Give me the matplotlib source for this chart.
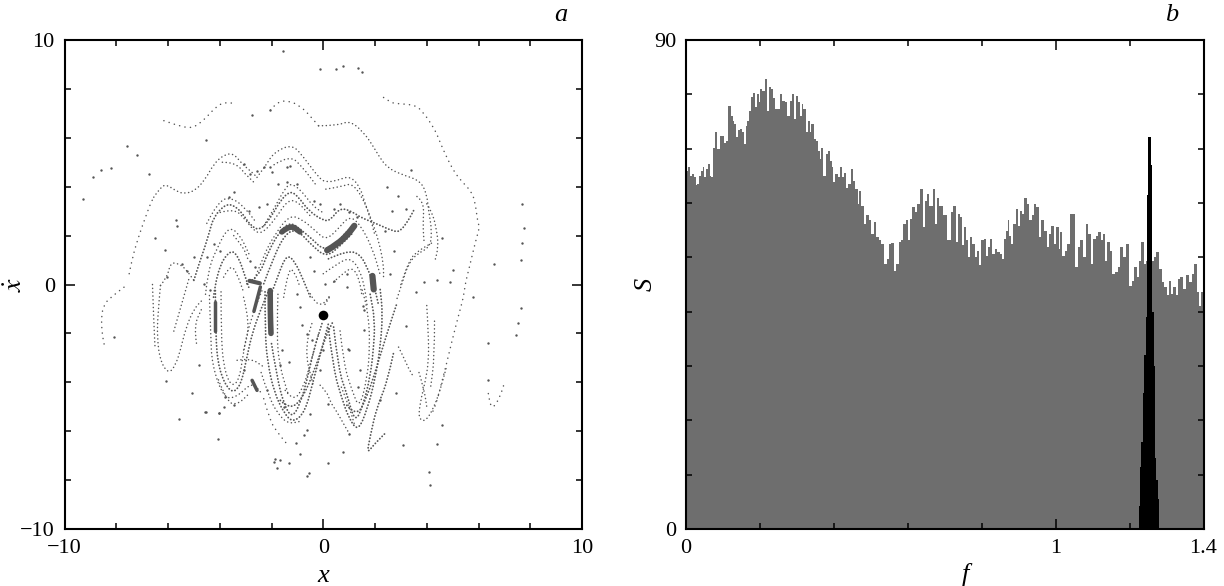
import matplotlib
matplotlib.use('Agg')
import matplotlib.pyplot as plt
from matplotlib.path import Path
from matplotlib.patches import PathPatch
import numpy as np

plt.rcParams['font.family'] = ['Liberation Serif', 'DejaVu Serif']
plt.rcParams['mathtext.fontset'] = 'stix'

# panel a: strands of the section as (x, xdot)
outer_top_left = [(-6.16, 6.70), (-5.71, 6.53), (-5.13, 6.38), (-4.81, 6.56), (-4.49, 6.86), (-4.17, 7.24),
                  (-3.84, 7.46), (-3.39, 7.40)]
outer_top_mid = [(-2.04, 7.13), (-1.78, 7.49), (-1.27, 7.51), (-0.88, 7.27), (-0.63, 7.04), (-0.18, 6.49)]
outer_right = [(2.33, 7.65), (2.59, 7.46), (2.78, 7.40), (3.55, 7.35), (3.87, 7.04), (4.32, 6.33), (4.49, 5.88),
               (4.71, 5.34), (5.0, 4.72), (5.22, 4.38), (5.48, 4.08), (5.74, 3.77), (5.87, 3.36), (5.96, 2.62),
               (6.04, 2.34), (5.93, 1.93), (5.8, 1.39), (5.68, 0.85), (5.55, 0.3), (5.48, -0.04), (5.42, -0.52),
               (5.23, -1.26), (5.03, -2.08), (4.84, -2.9), (4.75, -3.3), (4.58, -3.99), (4.39, -4.8), (4.2, -5.28)]
far_left_up = [(-7.5, 0.44), (-7.38, 1.12), (-7.06, 2.2), (-6.87, 2.75), (-6.68, 3.3), (-6.55, 3.57)]
far_left_low = [(-7.7, -0.11), (-8.22, -0.52), (-8.5, -0.86), (-8.58, -1.4), (-8.54, -2.08), (-8.45, -2.53)]
small_arc = [(6.38, -4.46), (6.45, -4.94), (6.58, -5.05), (6.83, -4.6), (7.0, -4.03)]
low_tail = [(-2.3, -4.67), (-2.04, -5.62), (-1.78, -6.03), (-1.34, -6.61)]
far_lobe = [(-6.29, -0.04), (-6.39, -1.13), (-6.42, -2.22), (-6.29, -3.17), (-5.97, -3.65), (-5.71, -3.3),
            (-5.52, -2.69), (-5.32, -1.81), (-5.0, -0.99), (-4.62, -0.58)]
far_lobe_top = [(-6.29, -0.04), (-6.03, 0.3), (-5.9, 0.9), (-5.58, 0.85), (-5.32, 0.64), (-5.0, 0.17)]
far_lobe_b = [(-6.6, 0.0), (-6.55, -1.5), (-6.5, -2.6)]
far_lobe_c = [(-5.2, 0.2), (-5.5, -0.9), (-5.8, -2.0)]
far_lobe_d = [(-4.9, -2.4), (-5.0, -1.7), (-4.7, -1.0)]
mid_upper = [(-6.55, 3.57), (-6.29, 3.98), (-6.06, 4.09), (-5.71, 3.84), (-5.39, 3.70), (-4.94, 3.84), (-4.55, 4.32),
             (-4.23, 4.93), (-3.84, 5.31), (-3.46, 5.36), (-3.14, 4.93), (-2.75, 4.59), (-2.56, 4.38)]
mid_upper_b = [(-3.9, 5.0), (-3.4, 5.0), (-3.0, 4.5), (-2.6, 4.1)]
upper_peak = [(-2.56, 4.38), (-2.2, 4.9), (-1.91, 5.4), (-1.2, 5.74), (-0.75, 5.2), (-0.18, 4.38), (0.08, 4.18),
              (0.53, 4.25), (1.04, 4.45), (1.43, 3.97), (1.62, 3.29), (1.88, 2.61), (2.14, 1.8), (2.33, 0.84),
              (2.33, 0.3)]
upper_peak_b = [(-1.9, 4.9), (-1.3, 5.3), (-0.8, 4.8), (-0.3, 4.1)]
upper_right_b = [(0.1, 3.9), (0.7, 4.0), (1.1, 4.15), (1.5, 3.6), (1.8, 2.8), (2.0, 2.0)]
top_wave = [(-0.18, 6.49), (0.53, 6.5), (1.04, 6.7), (1.56, 6.22), (1.88, 5.74), (2.14, 5.27), (2.46, 4.79),
            (2.97, 4.52), (3.75, 4.25), (4.0, 3.7), (4.07, 3.02), (4.2, 2.2), (4.13, 1.53), (3.62, 1.25), (3.29, 0.85),
            (3.04, 0.03), (2.85, -0.58)]
right_bundle_a = [(4.0, 3.3), (4.2, 3.0), (4.39, 2.2), (4.45, 1.53), (4.3, 0.9)]
right_bundle_b = [(3.62, 3.6), (3.9, 3.4), (3.85, 2.4), (3.9, 1.7)]
right_bundle_c = [(3.0, 0.0), (3.3, 1.0), (3.7, 1.4), (4.2, 1.7)]
wave_a = [(-5.0, 0.17), (-4.8, 0.85), (-4.62, 1.39), (-4.42, 2.07), (-4.24, 2.75), (-3.85, 3.22), (-3.53, 3.29),
          (-3.14, 2.95), (-2.82, 2.41), (-2.43, 2.2), (-1.98, 2.82), (-1.66, 3.43), (-1.27, 3.84), (-0.95, 3.57),
          (-0.57, 3.02), (0.0, 2.61), (0.27, 2.62), (0.66, 3.16), (1.17, 2.95), (1.43, 2.75), (2.07, 2.48), (2.7, 2.18),
          (2.97, 2.16), (3.29, 2.62), (3.49, 3.02)]
wave_b = [(-3.98, 2.95), (-3.46, 3.1), (-3.08, 2.75), (-2.69, 2.2), (-2.37, 2.07), (-1.85, 2.68), (-1.4, 3.43),
          (-1.02, 3.43), (-0.5, 2.8)]
wave_c = [(-4.5, 2.5), (-4.05, 3.45), (-3.5, 3.55), (-3.0, 3.1), (-2.6, 2.55)]
wave_d = [(-2.3, 2.4), (-1.9, 3.1), (-1.5, 3.9), (-1.25, 4.15), (-0.85, 3.85), (-0.4, 3.2), (0.05, 2.9)]
between = [(-2.7, 0.1), (-2.3, 1.2), (-1.9, 2.0), (-1.3, 2.85), (-0.8, 2.65), (-0.3, 2.2), (0.1, 1.8), (0.6, 2.3),
           (1.0, 2.8), (1.4, 2.5), (1.9, 1.5), (2.2, 0.4)]
thick_peak_a = [(-2.95, 0.03), (-2.5, 0.3), (-2.11, 1.39), (-1.66, 2.2), (-1.27, 2.55), (-0.89, 2.27), (-0.37, 1.8),
                (-0.05, 1.46), (0.4, 1.52), (0.91, 2.2), (1.23, 2.41)]
thick_peak_b = [(-2.3, 0.03), (-1.92, 1.12), (-1.47, 2.07), (-1.02, 2.27), (-0.37, 1.52), (0.14, 1.12), (0.66, 1.59),
                (1.17, 2.14)]
inner_peak = [(-2.05, -0.52), (-1.73, 0.44), (-1.4, 1.25), (-1.08, 0.91), (-0.76, 0.16), (-0.5, -0.52)]
inner_peak_b = [(-1.53, -0.52), (-1.34, 0.71), (-1.1, 0.5), (-0.9, -0.1)]
band_right_a = [(0.2, 1.05), (0.91, 1.39), (1.43, 1.25), (1.75, 0.57), (1.94, 0.03), (2.07, -0.52), (2.14, -0.86)]
band_right_b = [(0.0, 0.44), (0.53, 0.84), (1.04, 1.12), (1.43, 0.57), (1.62, -0.24), (1.7, -0.9)]
band_right_c = [(0.4, 0.1), (0.8, 0.5), (1.15, 0.7), (1.4, 0.2), (1.5, -0.5)]
left_peak_a = [(-4.24, -0.52), (-4.11, 0.57), (-3.59, 1.46), (-3.27, 1.12), (-3.01, 0.3), (-2.88, -0.11)]
left_peak_b = [(-3.85, 0.3), (-3.59, 0.84), (-3.33, 0.44), (-3.08, -0.31)]
left_peak_c = [(-3.46, 2.0), (-3.08, 1.52), (-2.9, 1.0)]
left_peak_d = [(-4.55, -0.4), (-4.45, 0.6), (-4.1, 1.5), (-3.65, 2.4), (-3.2, 2.0), (-2.85, 1.2)]
centre_lobe = [(-2.0, -2.42), (-1.79, -3.78), (-1.53, -4.87), (-1.21, -5.48), (-0.89, -4.87), (-0.63, -3.92),
               (-0.37, -2.69), (-0.05, -1.6)]
centre_lobe_b = [(-1.47, -4.33), (-1.15, -4.8), (-0.76, -4.19), (-0.5, -3.24), (-0.18, -2.01)]
centre_lobe_c = [(-1.66, -4.74), (-1.28, -5.14), (-0.76, -4.6), (-0.25, -3.24), (0.14, -2.01), (0.4, -1.47)]
centre_lobe_d = [(-2.25, -0.3), (-2.25, -2.0), (-2.15, -3.2), (-1.9, -4.4), (-1.5, -5.3), (-1.15, -5.65), (-0.7, -5.2),
                 (-0.4, -4.0), (-0.1, -2.8), (0.2, -1.6)]
centre_lobe_e = [(-1.75, -0.4), (-1.8, -2), (-1.7, -3.3), (-1.35, -4.5)]
centre_low = [(-2.4, -3.6), (-2.1, -4.6), (-1.75, -5.3), (-1.35, -5.7), (-0.9, -5.6)]
centre_inner = [(-0.44, -1.6), (-0.76, -2.56), (-0.37, -4.19)]
centre_cross = [(-0.5, -0.38), (-0.18, -1.06), (0.4, -0.25), (0.0, -0.93)]
right_lobe_a = [(0.4, -1.74), (0.59, -3.51), (0.91, -4.46), (1.23, -5.69), (1.56, -4.87), (1.81, -3.78), (1.94, -2.69),
                (2.0, -1.47), (1.81, -0.38)]
right_lobe_b = [(0.91, -4.94), (1.3, -5.42), (1.69, -4.6), (2.07, -3.37), (2.46, -2.01), (2.84, -0.79)]
right_lobe_c = [(2.71, -2.83), (2.46, -4.05), (2.07, -5.01), (1.81, -6.23), (1.69, -6.91), (1.94, -6.57), (2.39, -6.09)]
right_lobe_d = [(0.65, -1.9), (0.8, -3.3), (1.1, -4.3), (1.4, -5.1), (1.7, -3.8), (1.8, -2.6), (1.75, -1.2), (1.5, -0.2)]
right_lobe_e = [(0.2, -1.8), (0.4, -3.5), (0.7, -4.6), (1.0, -5.5), (1.35, -6.0), (1.7, -5.1), (2.0, -3.9), (2.2, -2.6),
                (2.3, -1.2), (2.2, -0.2)]
right_lobe_f = [(0.7, -4.2), (1.0, -5.0), (1.2, -5.7)]
right_lobe_low = [(-0.12, -4.12), (0.14, -4.39), (0.27, -4.8), (0.53, -5.21), (0.85, -5.82), (1.04, -6.16)]
left_lobe = [(-4.17, -0.25), (-4.17, -2.01), (-4.04, -3.51), (-3.59, -4.46), (-3.2, -4.19), (-2.95, -2.97),
             (-2.75, -2.01), (-2.43, -1.06), (-2.11, -0.25)]
left_lobe_b = [(-3.95, -0.3), (-3.95, -2.0), (-3.85, -3.4), (-3.55, -4.2), (-3.25, -3.9), (-3.1, -2.9), (-2.95, -2.0),
               (-2.65, -1.0), (-2.35, -0.2)]
left_lobe_outer = [(-4.4, -0.45), (-4.35, -2.0), (-4.3, -3.3), (-3.84, -4.67), (-3.33, -4.6), (-2.75, -3.99),
                   (-2.43, -4.39)]
left_lobe_edge = [(-3.08, -0.52), (-2.82, -1.6), (-3.08, -2.69)]
left_foot = [(-3.33, -3.1), (-2.82, -3.0), (-2.3, -3.37)]
left_bottom = [(-4.05, -3.9), (-3.7, -4.85), (-3.3, -4.9), (-2.9, -4.5)]
short_tail = [(2.91, -2.56), (3.04, -2.83), (3.3, -3.44), (3.49, -3.78)]
far_right_lobe = [(4.0, -0.86), (4.07, -2.08), (4.07, -3.17), (3.94, -3.99), (3.75, -4.8), (3.68, -5.48), (3.94, -5.62),
                  (4.26, -5.07), (4.52, -4.32), (4.78, -3.3)]
far_right_in = [(3.7, -3.6), (3.9, -4.3), (4.0, -5.0)]
far_right_b = [(4.3, -1.5), (4.3, -3.0), (4.15, -4.2)]

# the darkest patches, where the points merge
blob_centre_band = [(0.15, 1.4), (0.55, 1.65), (0.95, 2.05), (1.2, 2.4)]
blob_peak = [(-1.6, 2.15), (-1.27, 2.45), (-0.9, 2.15)]
blob_left_wall = [(-2.05, -0.25), (-2.05, -1.06), (-2.02, -2.0)]
blob_lobe_wall = [(-4.17, -0.7), (-4.17, -1.9)]
blob_right_knot = [(1.9, 0.35), (1.95, -0.2)]
blob_left_knot = [(-2.85, 0.15), (-2.45, 0.05)]
blob_wall_b = [(-2.43, -0.1), (-2.68, -1.1)]
blob_foot = [(-2.75, -3.92), (-2.56, -4.33)]

sparse_strands = [outer_top_left, outer_top_mid, outer_right, far_left_up, far_left_low, small_arc, low_tail]
medium_strands = [far_lobe, far_lobe_top, far_lobe_b, far_lobe_c, far_lobe_d, mid_upper, mid_upper_b, upper_peak,
                  upper_peak_b, upper_right_b, top_wave, wave_b, wave_c, wave_d, right_bundle_a, right_bundle_b,
                  right_bundle_c, inner_peak_b, left_peak_b, left_peak_c, left_peak_d, centre_lobe_b, centre_lobe_e,
                  centre_low, centre_inner, centre_cross, left_lobe_outer, left_lobe_b, left_lobe_edge, left_foot,
                  left_bottom, right_lobe_low, right_lobe_d, right_lobe_f, short_tail, far_right_lobe, far_right_in,
                  far_right_b, band_right_b, band_right_c, between]
dense_strands = [wave_a, thick_peak_a, thick_peak_b, inner_peak, band_right_a, left_peak_a, centre_lobe, centre_lobe_c,
                 centre_lobe_d, right_lobe_a, right_lobe_b, right_lobe_c, right_lobe_e, left_lobe]
blobs = [(blob_centre_band, 4.5), (blob_peak, 4.0), (blob_left_wall, 4.0), (blob_lobe_wall, 2.5),
         (blob_right_knot, 4.5), (blob_left_knot, 3.0), (blob_wall_b, 2.5), (blob_foot, 2.5)]

lone_points = [
    (-9.3, 3.5), (-8.9, 4.4), (-8.6, 4.7), (-8.2, 4.75), (-7.6, 5.65), (-7.2, 5.3), (-6.75, 4.5), (-4.55, 5.9),
    (-1.55, 9.55), (-0.12, 8.8), (0.5, 8.83), (0.76, 8.94), (1.33, 8.87), (1.49, 8.71), (7.63, -0.97), (7.54, -1.58),
    (7.45, -2.08), (6.38, -2.38), (6.38, -3.92), (4.07, -7.66), (4.13, -8.18), (0.17, -7.29), (0.76, -6.84),
    (3.1, -6.57), (4.41, -6.54), (4.6, -5.73), (2.82, -4.42), (3.2, -1.7), (5.8, -0.52), (0.94, -2.65), (1.52, -0.86),
    (-8.08, -2.15), (-4.81, -3.28), (-5.09, -4.43), (-4.55, -5.21), (-5.56, -5.52), (-6.08, -3.94), (-4.06, -6.3),
    (-4.01, -5.25), (-1.85, -7.12), (-1.91, -7.25), (-1.78, -7.5), (-1.66, -7.18), (-1.34, -7.32), (-0.88, -6.94),
    (-0.56, -7.73), (-0.63, -7.82), (-0.63, -5.96), (-0.75, -6.14), (-1.04, -6.5), (7.7, 3.3), (7.75, 2.3), (7.7, 1.7),
    (7.65, 1.0), (6.6, 0.85), (-2.75, 6.94), (-2.04, 7.13),
    (-3.08, 4.93), (-2.82, 4.52), (-2.56, 4.65), (-2.3, 4.79), (-2.05, 4.79), (-1.98, 4.59), (-1.4, 4.79), (-1.28, 4.86),
    (-3.46, 3.77), (-3.66, 3.57), (-2.88, 3.02), (-2.5, 3.16), (-2.18, 3.29), (-1.73, 4.11), (-1.4, 4.18), (-1.02, 4.11),
    (-0.37, 3.43), (-0.12, 3.29), (0.4, 3.09), (0.66, 3.29), (0.98, 2.95), (1.3, 2.75), (2.46, 3.97), (2.65, 3.02),
    (2.39, 2.2), (2.72, 1.39), (2.59, 0.44), (-4.24, 1.66), (-4.49, 1.12), (-3.98, 1.39), (-4.62, 0.03), (-4.36, -0.24),
    (-2.82, 0.98), (-2.63, 0.71), (-0.5, 1.12), (-0.37, 0.57), (0.08, 0.03), (0.4, 0.16), (0.91, -0.11), (0.91, 0.44),
    (-3.08, -3.51), (-3.78, -4.6), (-3.46, -4.94), (-3.85, -5.0), (-4.04, -5.25), (-4.56, -5.21), (-2.18, -4.33),
    (-1.66, -3.31), (-1.6, -2.69), (-1.34, -3.17), (-0.83, -1.67), (-0.63, -2.01), (-0.44, -2.29), (0.0, -2.69),
    (-0.12, -3.51), (0.2, -4.87), (0.98, -2.69), (1.56, -1.88), (1.56, -1.06), (1.43, -3.51), (1.36, -4.19), (2.2, -4.73),
    (0.98, -6.1), (-0.5, -5.28), (-1.53, -5.0), (-1.02, -0.38), (-0.89, -0.93), (-6.03, 0.3), (-5.45, 0.85), (-5.26, 0.57),
    (-5.0, 1.12), (-5.71, 2.62), (-5.66, 2.4), (-6.5, 1.9), (-6.1, 1.4), (4.6, 1.9), (5.0, 0.6), (3.4, 4.7), (2.9, 3.6),
    (3.2, 3.1), (4.4, 0.2), (4.9, 0.1), (3.6, -0.3), (3.9, 0.1),
]
marked_x = [0.0]
marked_y = [-1.26]

f_low = [0, .0045, .009, .0144, .019, .0235, .028, .0325, .0379, .0424, .0469, .0514, .0569, .0614, .0659, .0704,
         .074, .0812, .0875, .0939, .0993, .1056, .111, .1173, .1236, .1282, .1327, .1381, .1435, .1498, .1552, .1588,
         .1634, .1688, .1733, .1787, .1841, .1895, .1958, .1976, .2031, .2094, .2175, .2211, .2274, .2328, .2383, .2455,
         .2509, .2572, .2635, .2698, .2771, .2834, .2888, .2942, .3005, .3069, .3105, .315, .3204, .3267, .3321, .3366,
         .342, .3484, .3538, .3592, .3637, .3682, .3754, .3809, .3863, .3917, .3971, .4007, .4079, .4133, .4197, .426,
         .4287, .435, .4422, .4485, .4549, .4621, .4666, .472, .4765, .4846, .491, .4982, .5045, .5126, .518, .5253,
         .5307, .5406, .5451, .5523, .5577, .5659, .5722, .5794, .5848, .5902, .5975, .6029, .6092, .6155, .6227, .6281,
         .6363, .6435, .6489, .6543, .6606, .6651, .6715, .676, .6814, .6895, .6994, .7121]
s_low = [65.0, 65.9, 66.7, 65.0, 65.3, 64.7, 63.4, 63.5, 65.0, 65.9, 66.7, 64.7, 66.2, 67.2, 65.0, 64.7,
         70.2, 73.0, 69.9, 72.4, 72.4, 71.1, 71.5, 77.9, 76.0, 75.1, 74.5, 72.1, 73.4, 73.6, 73.0, 70.8,
         74.2, 75.1, 77.0, 79.5, 80.3, 77.6, 80.0, 78.5, 81.0, 80.6, 82.8, 77.0, 81.3, 81.0, 79.4, 77.3,
         77.3, 80.0, 78.8, 78.5, 76.0, 78.8, 80.0, 75.4, 79.7, 78.5, 76.0, 78.2, 77.3, 73.0, 75.1, 73.0,
         74.5, 71.8, 71.5, 69.6, 68.1, 70.2, 65.0, 69.0, 69.6, 67.8, 66.6, 63.8, 65.3, 64.7, 66.6, 64.7,
         65.6, 62.8, 63.5, 66.2, 64.1, 62.6, 59.8, 62.3, 59.5, 56.1, 57.7, 56.8, 54.3, 56.5, 53.7, 53.1,
         52.5, 48.8, 49.7, 52.5, 52.6, 47.4, 48.8, 52.8, 53.1, 56.1, 56.8, 53.1, 57.1, 59.2, 58.3, 59.8,
         62.6, 55.5, 60.4, 61.7, 59.5, 59.5, 62.6, 56.1, 61.0, 59.5, 57.7, 53.1]
f_high = [.7193, .7256, .7328, .7383, .7446, .7491, .7554, .7599, .7653, .7717, .778, .7843, .7897, .796, .8023, .8077,
          .814, .8204, .8258, .8321, .8384, .8456, .8529, .8574, .8619, .8682, .8727, .8772, .8817, .888, .8953, .9007,
          .9061, .9115, .9187, .9242, .9314, .9386, .9449, .9512, .9585, .9648, .972, .9792, .9855, .9909, .999, 1.0054,
          1.0108, 1.0144, 1.0216, 1.0288, 1.0351, 1.0415, 1.0487, 1.0559, 1.0631, 1.0712, 1.0775, 1.0848, 1.092, 1.0992,
          1.1046, 1.1118, 1.119, 1.1254, 1.1299, 1.1371, 1.1434, 1.1497, 1.1569, 1.1642, 1.1705, 1.1795, 1.1858, 1.1948,
          1.2021, 1.2093, 1.2156, 1.2219, 1.2291, 1.2354, 1.2418, 1.2472, 1.2535, 1.2598, 1.2697, 1.276, 1.2832, 1.2905,
          1.2968, 1.3031, 1.3085, 1.3148, 1.3211, 1.3283, 1.3338, 1.3401, 1.3482, 1.3572, 1.3644, 1.3716, 1.3779, 1.3843,
          1.3915, 1.3969, 1.4]
s_high = [58.3, 59.5, 52.8, 58.0, 57.4, 52.2, 55.5, 53.1, 50.0, 53.7, 52.5, 50.0, 51.2, 48.5, 53.1, 53.4,
          50.3, 51.9, 53.4, 50.6, 51.5, 50.9, 50.6, 49.7, 53.4, 54.9, 56.8, 54.0, 52.5, 56.1, 58.9, 55.8,
          58.5, 58.0, 61.0, 59.8, 56.8, 57.7, 59.8, 59.2, 53.7, 56.8, 54.9, 51.9, 54.3, 55.8, 52.5, 55.5,
          51.5, 54.6, 50.3, 51.2, 52.5, 58.0, 58.0, 48.2, 51.9, 53.1, 50.0, 56.1, 54.3, 48.8,
          53.4, 54.0, 54.6, 53.1, 54.3, 49.4, 52.8, 51.2, 47.0, 47.3, 48.2, 51.9, 50.0, 52.5,
          44.8, 45.7, 48.2, 46.3, 49.4, 52.8, 48.8, 49.4, 49.4, 49.4, 50.0, 50.9, 47.9, 45.4,
          44.5, 43.0, 45.7, 43.3, 44.5, 43.0, 46.0, 46.3, 44.2, 46.7, 45.4, 47.0, 48.8, 43.6,
          41.1, 43.6, 43.6]
peak_f = [1.2247, 1.2284, 1.2321, 1.2358, 1.2395, 1.2432, 1.2469, 1.2506, 1.2543, 1.2580, 1.2617, 1.2654, 1.2691,
          1.2728, 1.2765]
peak_s = [4.2, 11.5, 16, 25, 32, 39, 61.4, 72.1, 72.1, 67, 40, 30, 13, 9, 5.5]

W, H = 1224, 586
dot = '#555555'


def draw_strand(ax, pts, lw, style):
    # quadratic segments between midpoints, so the strands bend instead of kinking
    pts = np.array(pts)
    verts = [pts[0]]
    codes = [Path.MOVETO]
    for i in range(1, len(pts) - 1):
        verts += [pts[i], (pts[i] + pts[i + 1]) / 2]
        codes += [Path.CURVE3, Path.CURVE3]
    verts.append(pts[-1])
    codes.append(Path.LINETO)
    ax.add_patch(PathPatch(Path(verts, codes), fill=False, edgecolor=dot, lw=lw, linestyle=style, capstyle='round'))


fig = plt.figure(figsize=(W / 100, H / 100), dpi=100)
ax1 = fig.add_axes([64.5 / W, 1 - 529 / H, 517.5 / W, 489 / H])
ax2 = fig.add_axes([686 / W, 1 - 529 / H, 517.5 / W, 489 / H])

for group, lw, gap in [(sparse_strands, 1.1, 3.5), (medium_strands, 1.1, 2.4), (dense_strands, 1.3, 1.7)]:
    for strand in group:
        draw_strand(ax1, strand, lw, (0, (0.1, gap)))
for blob, lw in blobs:
    draw_strand(ax1, blob, lw, '-')
lone_x, lone_y = zip(*lone_points)
ax1.scatter(lone_x, lone_y, s=3, color=dot, linewidths=0)
ax1.scatter(marked_x, marked_y, s=48, color='black', linewidths=0, zorder=3)
ax1.set_xlim(-10, 10)
ax1.set_ylim(-10, 10)
ax1.set_xticks([-10, 0, 10])
ax1.set_xticklabels(['\u221210', '0', '10'])
ax1.set_yticks([-10, 0, 10])
ax1.set_yticklabels(['\u221210', '0', '10'])
ax1.set_xticks(np.arange(-8, 9, 2), minor=True)
ax1.set_yticks(np.arange(-8, 9, 2), minor=True)

ax2.fill_between(f_low + f_high, s_low + s_high, step='mid', color='#6e6e6e', linewidth=0)
ax2.bar(peak_f, peak_s, width=0.0037, align='edge', color='black', linewidth=0)
ax2.set_xlim(0, 1.4)
ax2.set_ylim(0, 90)
ax2.set_xticks([0, 1, 1.4])
ax2.set_xticklabels(['0', '1', '1.4'])
ax2.set_yticks([0, 90])
ax2.set_yticklabels(['0', '90'])
ax2.set_xticks([0.2, 0.4, 0.6, 0.8, 1.2], minor=True)
ax2.set_yticks(np.arange(10, 90, 10), minor=True)

for ax in (ax1, ax2):
    for s in ax.spines.values():
        s.set_linewidth(1.5)
    ax.tick_params(which='major', direction='in', top=True, right=True, length=7, width=1.1, labelsize=16, pad=7)
    ax.tick_params(which='minor', direction='in', top=True, right=True, length=4, width=1.1)
    ax.set_axisbelow(False)

txt = dict(fontsize=19, ha='center', va='center', style='italic')
fig.text(323 / W, 1 - 576 / H, 'x', **txt)
fig.text(15 / W, 1 - 284 / H, r'$\dot{x}$', rotation=90, fontsize=20, ha='center', va='center')
fig.text(646 / W, 1 - 284 / H, 'S', rotation=90, **txt)
fig.text(965 / W, 1 - 574 / H, 'f', **txt)
fig.text(561 / W, 1 - 15 / H, 'a', **txt)
fig.text(1172 / W, 1 - 15 / H, 'b', **txt)

fig.savefig('out.png', dpi=100)
